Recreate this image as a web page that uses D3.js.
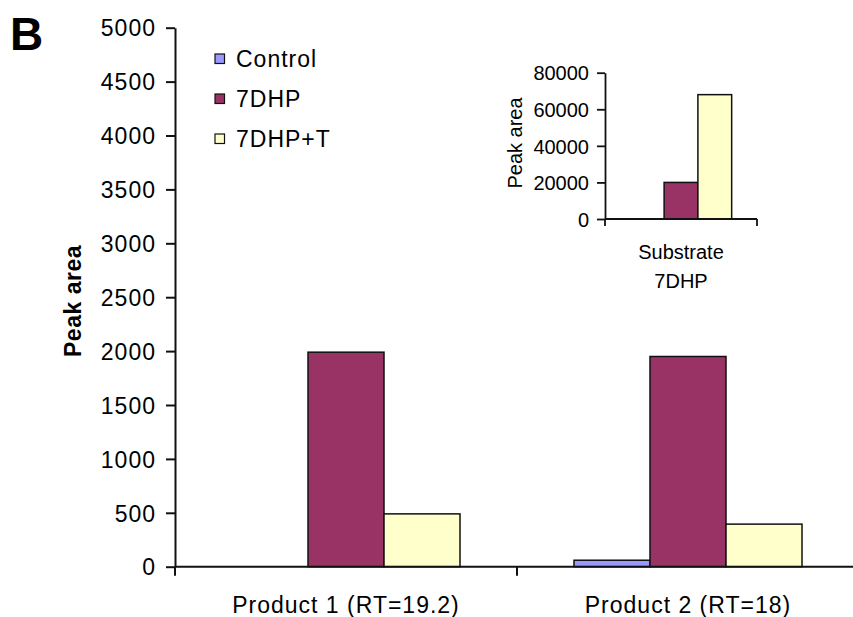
<!DOCTYPE html>
<html>
<head>
<meta charset="utf-8">
<script src="https://cdn.jsdelivr.net/npm/d3@7/dist/d3.min.js"></script>
<style>
  html, body { margin: 0; padding: 0; background: #fff; }
  svg { display: block; overflow: hidden; }
  text { font-family: "Liberation Sans", Arial, sans-serif; fill: #000; }
</style>
</head>
<body>
<svg id="chart" width="853" height="617"></svg>
<script>
// ---- data ----
const categories = ["Product 1 (RT=19.2)", "Product 2 (RT=18)"];
const seriesNames = ["Control", "7DHP", "7DHP+T"];
const seriesColors = ["#9999FF", "#993366", "#FFFFCC"];
const controlValues = [0, 60];
const dhpValues = [1990, 1950];
const dhpTValues = [490, 395];
const yTicks = [0, 500, 1000, 1500, 2000, 2500, 3000, 3500, 4000, 4500, 5000];

const insetCategories = ["Substrate 7DHP"];
const insetLabelLines = ["Substrate", "7DHP"];
const insetControl = [0];
const insetDhp = [20000];
const insetDhpT = [68000];
const insetTicks = [0, 20000, 40000, 60000, 80000];

const svg = d3.select("#chart");

function drawBars(g, cats, vals, x0, y) {
  const x1 = d3.scaleBand().domain(seriesNames)
    .range([0, x0.bandwidth()]).paddingInner(0).paddingOuter(0.75);
  cats.forEach((c, i) => {
    seriesNames.forEach((s, j) => {
      const v = vals[j][i];
      if (v <= 0) return;
      g.append("rect")
        .attr("x", x0(c) + x1(s))
        .attr("y", y(v))
        .attr("width", x1.bandwidth())
        .attr("height", y(0) - y(v))
        .attr("fill", seriesColors[j])
        .attr("stroke", "#111")
        .attr("stroke-width", 1.5);
    });
  });
}

// ---- main chart ----
const y = d3.scaleLinear().domain([0, 5000]).range([566.7, 27.7]);
const x0 = d3.scaleBand().domain(categories).range([175, 859]).padding(0);
const mainVals = [controlValues, dhpValues, dhpTValues];

const gBars = svg.append("g");
drawBars(gBars, categories, mainVals, x0, y);

// y axis
const yAxis = svg.append("g").attr("transform", "translate(175,0)")
  .call(d3.axisLeft(y).tickValues(yTicks).tickFormat(d3.format("d")).tickSize(9).tickPadding(10).tickSizeOuter(0));
yAxis.select(".domain").attr("stroke", "#111").attr("stroke-width", 2);
yAxis.selectAll(".tick line").attr("stroke", "#111").attr("stroke-width", 2);
yAxis.selectAll(".tick text").style("font-size", "23px").style("letter-spacing", "1px").attr("dy", "0.36em");

// x axis
const xAxisG = svg.append("g");
xAxisG.append("line").attr("x1", 175).attr("x2", 859).attr("y1", y(0)).attr("y2", y(0))
  .attr("stroke", "#111").attr("stroke-width", 2);
const boundaries = categories.map(c => x0(c)).concat([x0(categories[categories.length - 1]) + x0.bandwidth()]);
boundaries.forEach(b => {
  xAxisG.append("line").attr("x1", b).attr("x2", b).attr("y1", y(0)).attr("y2", y(0) + 9)
    .attr("stroke", "#111").attr("stroke-width", 2);
});
categories.forEach(c => {
  xAxisG.append("text").attr("x", x0(c) + x0.bandwidth() / 2).attr("y", 613)
    .attr("text-anchor", "middle").style("font-size", "23px").style("letter-spacing", "1px").text(c);
});

// y label
svg.append("text").attr("transform", "translate(81,301) rotate(-90)")
  .attr("text-anchor", "middle").style("font-size", "23px").style("font-weight", "bold")
  .style("letter-spacing", "0.5px").text("Peak area");

// panel letter
svg.append("text").attr("x", 10).attr("y", 50).style("font-size", "46px").style("font-weight", "bold").text("B");

// legend
const legend = svg.append("g");
seriesNames.forEach((s, j) => {
  const cy = 58.5 + j * 40;
  legend.append("rect").attr("x", 215).attr("y", cy - 4.5).attr("width", 9.5).attr("height", 9.5)
    .attr("fill", seriesColors[j]).attr("stroke", "#111").attr("stroke-width", 1.2);
  legend.append("text").attr("x", 236).attr("y", cy + 8).style("font-size", "23px")
    .style("letter-spacing", "1px").text(s);
});

// ---- inset ----
const yi = d3.scaleLinear().domain([0, 80000]).range([219, 72.7]);
const xi = d3.scaleBand().domain(insetCategories).range([605, 757]).padding(0);
const insetVals = [insetControl, insetDhp, insetDhpT];
const gInset = svg.append("g");
drawBars(gInset, insetCategories, insetVals, xi, yi);

const yiAxis = svg.append("g").attr("transform", "translate(605,0)")
  .call(d3.axisLeft(yi).tickValues(insetTicks).tickFormat(d3.format("d")).tickSize(8).tickPadding(8).tickSizeOuter(0));
yiAxis.select(".domain").attr("stroke", "#111").attr("stroke-width", 1.8);
yiAxis.selectAll(".tick line").attr("stroke", "#111").attr("stroke-width", 1.8);
yiAxis.selectAll(".tick text").style("font-size", "20px").attr("dy", "0.36em");

svg.append("line").attr("x1", 605).attr("x2", 757).attr("y1", yi(0)).attr("y2", yi(0))
  .attr("stroke", "#111").attr("stroke-width", 1.8);
[605, 757].forEach(b => {
  svg.append("line").attr("x1", b).attr("x2", b).attr("y1", yi(0)).attr("y2", yi(0) + 7)
    .attr("stroke", "#111").attr("stroke-width", 1.8);
});
insetLabelLines.forEach((t, k) => {
  svg.append("text").attr("x", xi(insetCategories[0]) + xi.bandwidth() / 2).attr("y", 259 + k * 29)
    .attr("text-anchor", "middle").style("font-size", "20px").text(t);
});
svg.append("text").attr("transform", "translate(522,143) rotate(-90)")
  .attr("text-anchor", "middle").style("font-size", "20px").text("Peak area");
</script>
</body>
</html>
